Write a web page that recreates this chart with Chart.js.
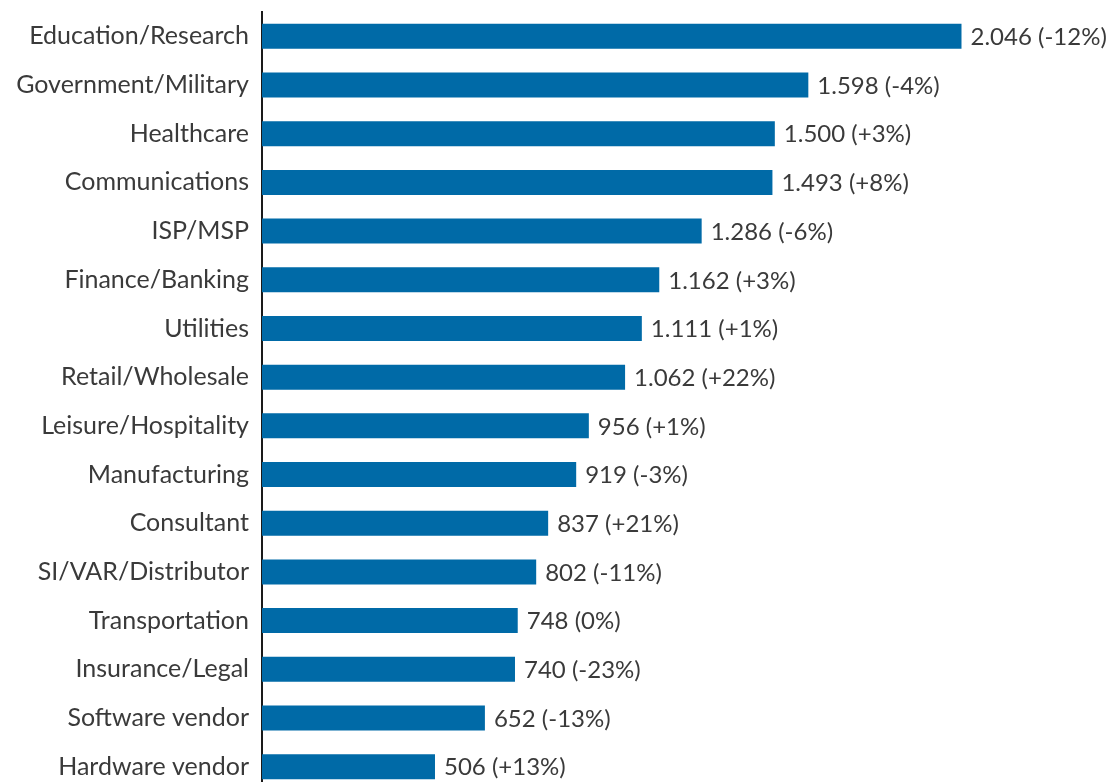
<!DOCTYPE html>
<html>
<head>
<meta charset="utf-8">
<script src="https://cdn.jsdelivr.net/npm/chart.js@4/dist/chart.umd.min.js"></script>
<style>
  html, body { margin: 0; padding: 0; background: #fff; overflow: hidden; }
  #wrap { width: 1115px; height: 792px; }
</style>
</head>
<body>
<div id="wrap"><canvas id="sectors" width="1115" height="792"></canvas></div>
<script>
// Sectors, counts and year-over-year change
var sectors = [
  "Education/Research", "Government/Military", "Healthcare", "Communications",
  "ISP/MSP", "Finance/Banking", "Utilities", "Retail/Wholesale",
  "Leisure/Hospitality", "Manufacturing", "Consultant", "SI/VAR/Distributor",
  "Transportation", "Insurance/Legal", "Software vendor", "Hardware vendor"
];
var counts = [2046, 1598, 1500, 1493, 1286, 1162, 1111, 1062, 956, 919, 837, 802, 748, 740, 652, 506];
var changes = [-12, -4, 3, 8, -6, 3, 1, 22, 1, -3, 21, -11, 0, -23, -13, 13];

var barColor = "#006aa7";
var textColor = "#3a3a3a";
var fontFamily = "Lato, 'Open Sans', sans-serif";
var tickFontSize = 25;
var valueFontSize = 24;

// 2046 -> "2.046", change -> "(+3%)"
function formatCount(n) {
  return String(n).replace(/\B(?=(\d{3})+(?!\d))/g, ".");
}
function formatChange(c) {
  return "(" + (c > 0 ? "+" : "") + c + "%)";
}

// Writes "value (change)" just past the end of each bar
var barValueLabels = {
  id: "barValueLabels",
  afterDatasetsDraw: function (chart) {
    var ctx = chart.ctx;
    var meta = chart.getDatasetMeta(0);
    ctx.save();
    ctx.font = valueFontSize + "px " + fontFamily;
    ctx.fillStyle = textColor;
    ctx.textAlign = "left";
    ctx.textBaseline = "middle";
    meta.data.forEach(function (bar, i) {
      var text = formatCount(counts[i]) + " " + formatChange(changes[i]);
      ctx.fillText(text, bar.x + 9, bar.y + 1);
    });
    ctx.restore();
  }
};

var chart = new Chart(document.getElementById("sectors"), {
  type: "bar",
  data: {
    labels: sectors,
    datasets: [{
      data: counts,
      backgroundColor: barColor,
      borderWidth: 0,
      categoryPercentage: 1,
      barPercentage: 0.513
    }]
  },
  options: {
    indexAxis: "y",
    responsive: false,
    animation: false,
    devicePixelRatio: 1,
    layout: { padding: { top: 12, bottom: 1, left: 0, right: 0 } },
    plugins: {
      legend: { display: false },
      tooltip: { enabled: false }
    },
    scales: {
      x: {
        display: false,
        min: 0,
        max: 2495
      },
      y: {
        afterFit: function (scale) {
          scale.width = 262;
          // no extra room for the first/last label
          scale.paddingTop = 0;
          scale.paddingBottom = 0;
        },
        grid: { display: false, drawTicks: false },
        border: { display: true, color: "#1a1a1a", width: 2 },
        ticks: {
          color: textColor,
          padding: 13,
          autoSkip: false,
          font: { family: fontFamily, size: tickFontSize }
        }
      }
    }
  },
  plugins: [barValueLabels]
});
</script>
</body>
</html>
